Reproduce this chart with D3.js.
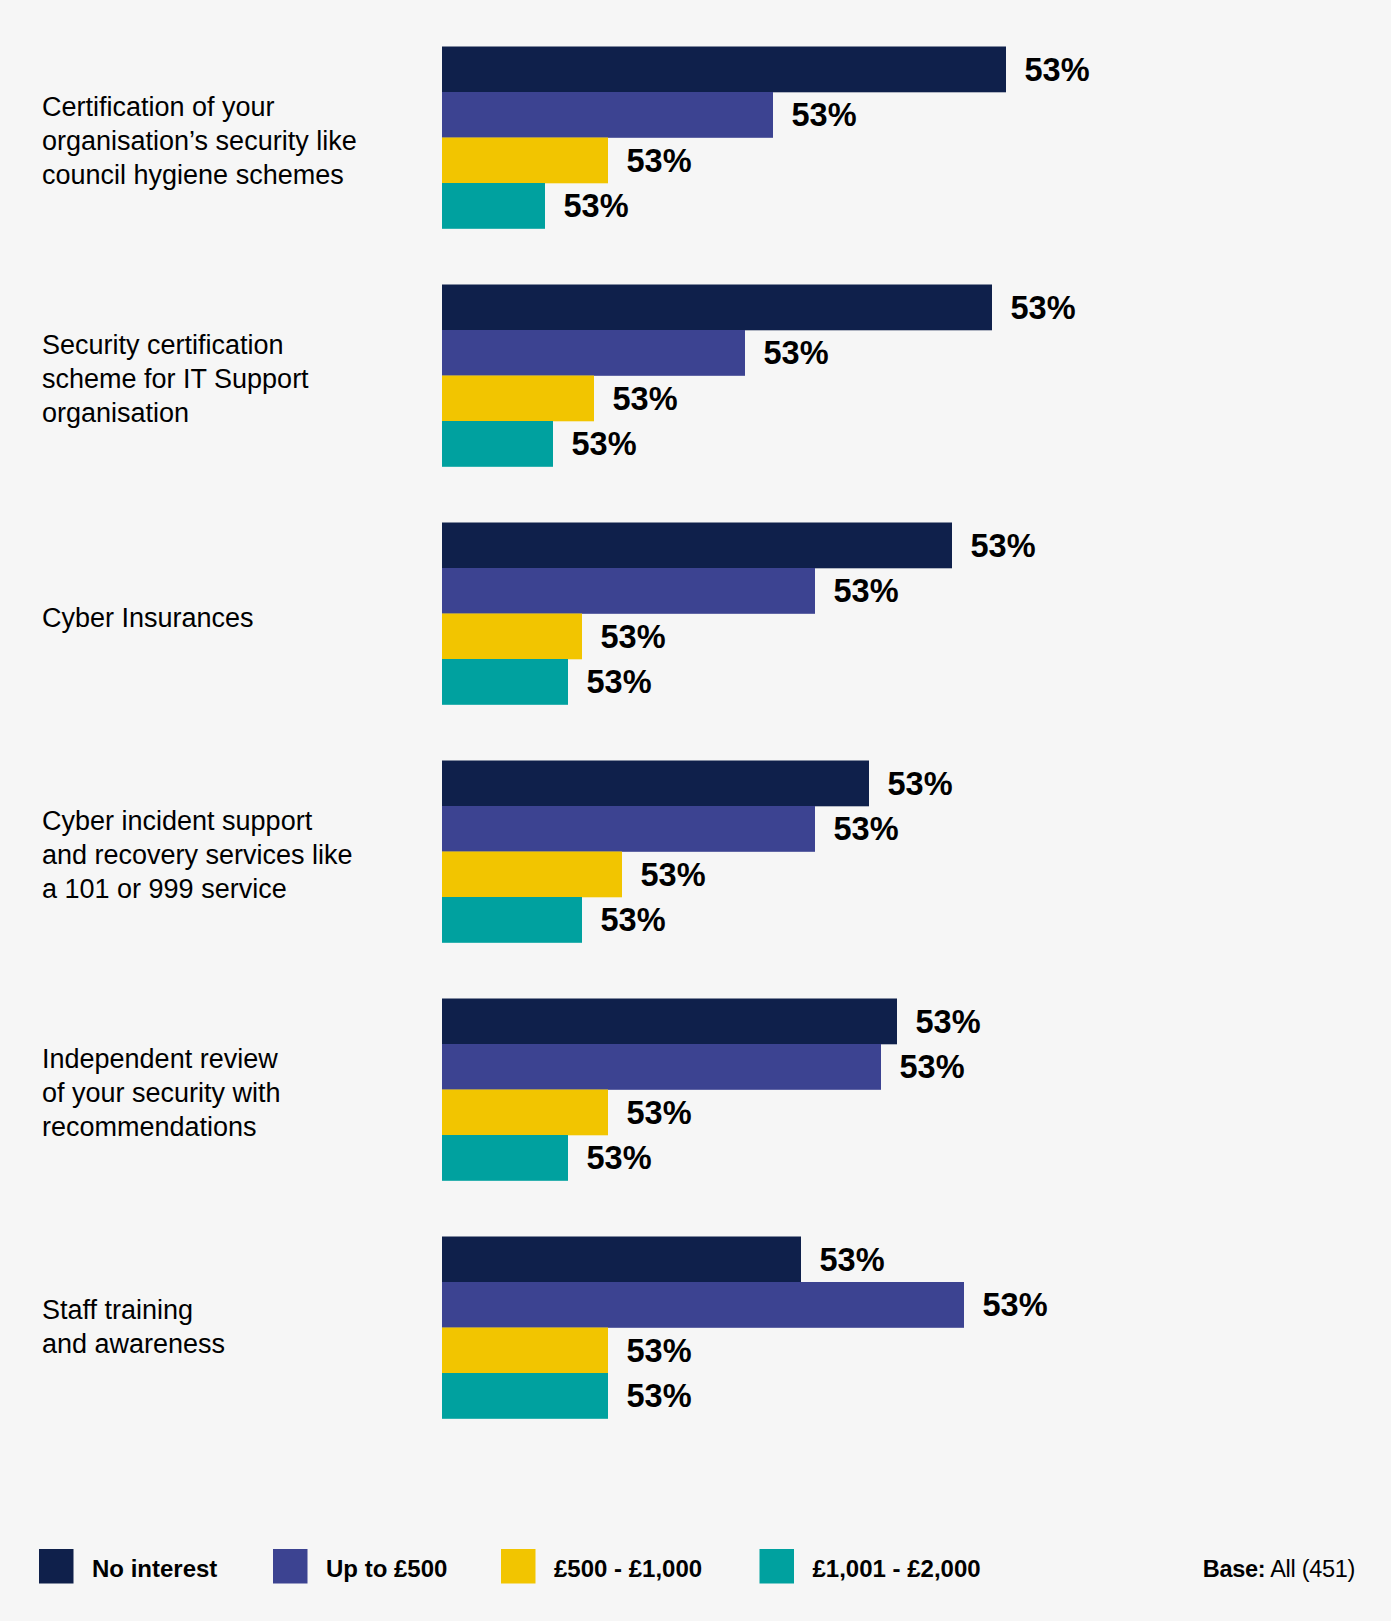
<!DOCTYPE html>
<html>
<head>
<meta charset="utf-8">
<script src="https://cdn.jsdelivr.net/npm/d3@7/dist/d3.min.js"></script>
<style>
  html, body { margin: 0; padding: 0; background: #f6f6f6; }
  svg { display: block; }
  text { font-family: "Liberation Sans", Arial, Helvetica, sans-serif; fill: #000; }
</style>
</head>
<body>
<svg id="chart" width="1391" height="1621"></svg>
<script>
// Survey options (each label split into its printed lines)
const categories = [
  ["Certification of your", "organisation\u2019s security like", "council hygiene schemes"],
  ["Security certification", "scheme for IT Support", "organisation"],
  ["Cyber Insurances"],
  ["Cyber incident support", "and recovery services like", "a 101 or 999 service"],
  ["Independent review", "of your security with", "recommendations"],
  ["Staff training", "and awareness"]
];

// Willingness-to-pay bands
const seriesNames = ["No interest", "Up to \u00a3500", "\u00a3500 - \u00a31,000", "\u00a31,001 - \u00a32,000"];
const seriesColors = ["#0f204b", "#3c4391", "#f2c500", "#00a19f"];

// Bar values (%) per band, in category order
const noInterest   = [56.4, 55.0, 51.0, 42.7, 45.5, 35.9];
const upTo500      = [33.1, 30.3, 37.3, 37.3, 43.9, 52.2];
const from500      = [16.6, 15.2, 14.0, 18.0, 16.6, 16.6];
const from1001     = [10.3, 11.1, 12.6, 14.0, 12.6, 16.6];

// Value labels as printed next to each bar
const labelsNoInterest = ["53%", "53%", "53%", "53%", "53%", "53%"];
const labelsUpTo500    = ["53%", "53%", "53%", "53%", "53%", "53%"];
const labelsFrom500    = ["53%", "53%", "53%", "53%", "53%", "53%"];
const labelsFrom1001   = ["53%", "53%", "53%", "53%", "53%", "53%"];

const seriesValues = [noInterest, upTo500, from500, from1001];
const seriesLabels = [labelsNoInterest, labelsUpTo500, labelsFrom500, labelsFrom1001];

// Vertical nudges for the category label blocks (px)
const labelNudge = [-1, -1, 0, -1, -1, -5];

const svg = d3.select("#chart");
svg.append("rect").attr("width", 1391).attr("height", 1621).attr("fill", "#f6f6f6");

const x = d3.scaleLinear().domain([0, 100]).range([442, 1442]);

const catIdx = d3.range(categories.length);
const y0 = d3.scaleBand()
  .domain(catIdx)
  .range([46.5, 1418.5])
  .paddingInner(56 / 238)
  .paddingOuter(0);

const y1 = d3.scaleBand()
  .domain(d3.range(seriesNames.length))
  .range([0, y0.bandwidth()])
  .padding(0);

const rows = [];
catIdx.forEach(c => {
  seriesNames.forEach((s, k) => {
    rows.push({ c, k, v: seriesValues[k][c], label: seriesLabels[k][c] });
  });
});

const groups = svg.append("g");

groups.selectAll("rect.bar")
  .data(rows)
  .join("rect")
  .attr("class", "bar")
  .attr("x", x(0))
  .attr("y", d => y0(d.c) + y1(d.k))
  .attr("width", d => x(d.v) - x(0))
  .attr("height", y1.bandwidth() + 0.3)
  .attr("fill", d => seriesColors[d.k]);

groups.selectAll("text.val")
  .data(rows)
  .join("text")
  .attr("class", "val")
  .attr("x", d => x(d.v) + 18.5)
  .attr("y", d => y0(d.c) + y1(d.k) + y1.bandwidth() / 2 + 11.5)
  .attr("font-size", 32.5)
  .attr("font-weight", "bold")
  .text(d => d.label);

// Category labels, vertically centred on their bar group
const catFont = 27, lineH = 34;
const catLabels = svg.append("g").selectAll("text.cat")
  .data(catIdx)
  .join("text")
  .attr("class", "cat")
  .attr("font-size", catFont)
  .attr("x", 42);

catLabels.each(function(c) {
  const lines = categories[c];
  const mid = y0(c) + y0.bandwidth() / 2 + 3.5 + labelNudge[c];
  d3.select(this).selectAll("tspan")
    .data(lines)
    .join("tspan")
    .attr("x", 42)
    .attr("y", (d, i) => mid + (i - (lines.length - 1) / 2) * lineH + catFont * 0.716 / 2)
    .text(d => d);
});

// Legend
const legendX = [39, 273, 501, 759.5];
const legend = svg.append("g").selectAll("g.leg")
  .data(seriesNames)
  .join("g")
  .attr("class", "leg")
  .attr("transform", (d, i) => `translate(${legendX[i]},1549)`);

legend.append("rect")
  .attr("width", 34.5)
  .attr("height", 34.5)
  .attr("fill", (d, i) => seriesColors[i]);

legend.append("text")
  .attr("x", 53)
  .attr("y", 28)
  .attr("font-size", 24)
  .attr("font-weight", "bold")
  .text(d => d);

const base = svg.append("text")
  .attr("x", 1355)
  .attr("y", 1577)
  .attr("font-size", 23.5)
  .attr("letter-spacing", -0.3)
  .attr("text-anchor", "end");
base.append("tspan").attr("font-weight", "bold").text("Base:");
base.append("tspan").text(" All (451)");
</script>
</body>
</html>
